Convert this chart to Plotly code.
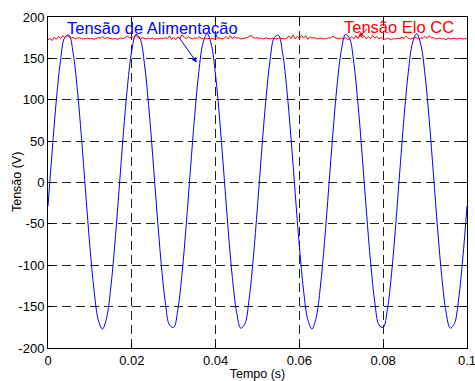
import numpy as np
import plotly.graph_objects as go

# Supply voltage (V), sampled every 1 ms from 0 to 0.1 s
tensao_alimentacao = [
    -28.6, 38.3, 100.0, 147.9, 175.2, 178.1, 156.2, 112.6, 53.4, -13.1,
    -77.6, -130.9, -165.7, -177.0, -163.2, -126.3, -71.4, -6.3, 59.9, 117.9,
    159.5, 179.0, 173.5, 143.9, 94.2, 31.6, -35.3, -97.0, -144.9, -172.2,
    -175.1, -153.2, -109.6, -50.4, 16.1, 80.6, 133.9, 168.7, 180.0, 166.2,
    129.3, 74.4, 9.3, -56.9, -114.9, -156.5, -176.0, -170.5, -140.9, -91.2,
    -28.6, 38.3, 100.0, 147.9, 175.2, 178.1, 156.2, 112.6, 53.4, -13.1,
    -77.6, -130.9, -165.7, -177.0, -163.2, -126.3, -71.4, -6.3, 59.9, 117.9,
    159.5, 179.0, 173.5, 143.9, 94.2, 31.6, -35.3, -97.0, -144.9, -172.2,
    -175.1, -153.2, -109.6, -50.4, 16.1, 80.6, 133.9, 168.7, 180.0, 166.2,
    129.3, 74.4, 9.3, -56.9, -114.9, -156.5, -176.0, -170.5, -140.9, -91.2,
    -28.6,
]

# DC-link voltage (V), sampled every 0.5 ms from 0 to 0.1 s
tensao_elo_cc = [
    172.5, 174.0, 171.5, 175.5, 173.0, 176.5, 174.0, 177.5, 175.0, 178.0,
    176.0, 174.5, 175.5, 173.5, 174.5, 175.0, 174.0, 173.5, 174.0, 174.5,
    173.5, 174.0, 173.0, 174.0, 175.0, 174.5, 176.5, 174.0, 175.0, 174.5,
    174.0, 173.5, 174.0, 173.0, 174.0, 174.5, 174.0, 175.5, 177.0, 174.5,
    176.5, 174.0, 178.0, 175.0, 173.5, 175.0, 174.0, 173.5, 174.5, 174.0,
    174.5, 173.0, 174.0, 173.5, 174.5, 174.0, 175.0, 174.0, 177.0, 173.0,
    175.5, 172.5, 176.0, 174.0, 178.5, 175.5, 174.0, 176.0, 174.5, 173.5,
    175.0, 174.0, 176.0, 174.5, 173.5, 174.0, 173.5, 174.5, 174.0, 173.5,
    174.0, 175.0, 174.5, 173.5, 174.0, 176.5, 173.5, 177.5, 174.0, 176.0,
    174.5, 175.0, 173.5, 174.0, 174.5, 175.0, 176.5, 178.0, 175.0, 174.5,
    175.0, 174.0, 174.5, 173.5, 175.0, 174.0, 173.5, 174.5, 174.0, 173.5,
    174.5, 174.0, 174.0, 173.5, 174.5, 177.0, 174.0, 178.5, 173.5, 176.5,
    174.0, 178.0, 174.5, 177.5, 173.0, 176.0, 174.5, 175.0, 174.0, 173.5,
    174.5, 174.0, 173.5, 174.0, 175.0, 174.5, 177.0, 175.0, 174.0, 173.5,
    174.5, 173.5, 175.0, 172.5, 174.0, 176.0, 173.5, 177.5, 174.0, 178.5,
    174.5, 177.0, 173.5, 176.5, 174.0, 178.0, 174.5, 176.5, 173.5, 175.0,
    174.0, 173.0, 174.5, 173.5, 172.5, 174.0, 173.5, 174.5, 174.0, 175.5,
    174.0, 177.0, 174.5, 173.5, 174.0, 176.0, 174.5, 173.5, 175.0, 174.0,
    176.5, 174.0, 177.5, 174.5, 175.0, 173.5, 174.0, 174.5, 173.5, 174.0,
    172.5, 174.5, 173.5, 174.0, 174.5, 173.5, 174.0, 174.5, 173.5, 174.0,
    174.0,
]

x_ticks = [0, 0.02, 0.04, 0.06, 0.08, 0.1]
x_tick_labels = ["0", "0.02", "0.04", "0.06", "0.08", "0.1"]
y_ticks = [-200, -150, -100, -50, 0, 50, 100, 150, 200]
y_tick_labels = [str(v) for v in y_ticks]

t_alim = np.linspace(0, 0.1, len(tensao_alimentacao))
t_elo = np.linspace(0, 0.1, len(tensao_elo_cc))

FONT = "Liberation Sans, Arial, sans-serif"

fig = go.Figure()
fig.add_trace(go.Scatter(
    x=t_alim, y=tensao_alimentacao, mode="lines",
    line=dict(color="rgb(0,0,255)", width=1, shape="spline", smoothing=1.0),
    showlegend=False,
))
fig.add_trace(go.Scatter(
    x=t_elo, y=tensao_elo_cc, mode="lines",
    line=dict(color="rgb(255,0,0)", width=1),
    showlegend=False,
))

# labels with pointer arrows
fig.add_annotation(x=0.0041, y=187, xref="x", yref="y", text="Tensão de Alimentação",
                   showarrow=False, xanchor="left", yanchor="middle",
                   font=dict(family=FONT, size=16.5, color="rgb(0,0,255)"))
fig.add_annotation(x=0.0355, y=145, ax=0.0311, ay=176.6, xref="x", yref="y",
                   axref="x", ayref="y", text="", showarrow=True,
                   arrowhead=2, arrowsize=1, arrowwidth=1, arrowcolor="rgb(0,0,255)")
fig.add_annotation(x=0.0702, y=188.5, xref="x", yref="y", text="Tensão Elo CC",
                   showarrow=False, xanchor="left", yanchor="middle",
                   font=dict(family=FONT, size=16.5, color="rgb(255,0,0)"))
fig.add_annotation(x=0.0741, y=175.8, ax=0.0765, ay=186.7, xref="x", yref="y",
                   axref="x", ayref="y", text="", showarrow=True,
                   arrowhead=2, arrowsize=1, arrowwidth=1, arrowcolor="rgb(255,0,0)")

# y-axis title, placed close to the tick labels
fig.add_annotation(x=-0.075, y=0.5, xref="paper", yref="paper", text="Tensão (V)",
                   textangle=-90, showarrow=False, xanchor="center", yanchor="middle",
                   font=dict(family=FONT, size=12.5, color="black"))

axis_common = dict(
    showline=True, linecolor="black", linewidth=1, mirror="ticks",
    ticks="inside", ticklen=5, tickcolor="black", tickwidth=1,
    showgrid=True, gridcolor="#222222", gridwidth=1, griddash="9px,5px",
    zeroline=False, tickfont=dict(family=FONT, size=13, color="black"),
    automargin=False, ticklabeloverflow="allow",
)

fig.update_xaxes(
    range=[0, 0.100001], tickvals=x_ticks, ticktext=x_tick_labels,
    title=dict(text="Tempo (s)", font=dict(family=FONT, size=12.5, color="black"), standoff=2),
    **axis_common,
)
fig.update_yaxes(
    range=[-200, 200], tickvals=y_ticks, ticktext=y_tick_labels,
    **axis_common,
)

fig.update_layout(
    width=475, height=381,
    margin=dict(l=48, r=8, t=17, b=33),
    paper_bgcolor="white", plot_bgcolor="white",
)

fig.write_html("out.html")
